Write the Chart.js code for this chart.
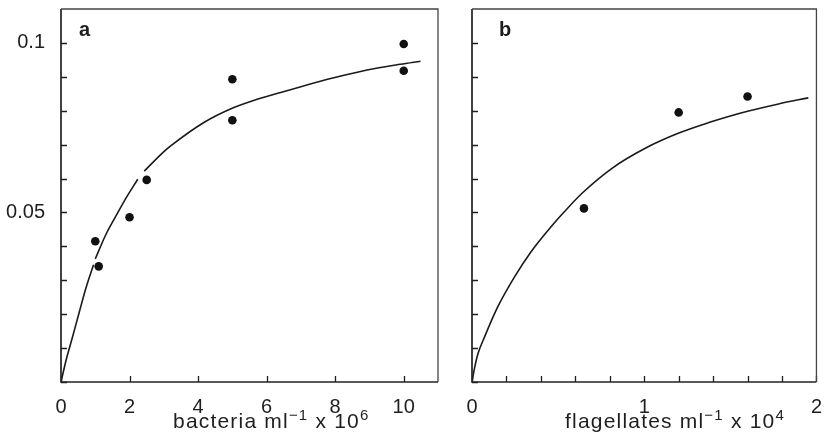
<!DOCTYPE html>
<html>
<head>
<meta charset="utf-8">
<script src="https://cdn.jsdelivr.net/npm/chart.js@4"></script>
<style>
  html, body { margin:0; padding:0; background:#fff; }
  #wrap { position:relative; width:827px; height:433px; overflow:hidden; }
  canvas { position:absolute; top:0; }
</style>
</head>
<body>
<div id="wrap">
  <canvas id="chartA" width="455" height="433" style="left:0;width:455px;height:433px"></canvas>
  <canvas id="chartB" width="372" height="433" style="left:455px;width:372px;height:433px"></canvas>
</div>
<script>
// ---------- Panel a: bacteria ----------
const pointsAX = [1.0, 1.1, 2.0, 2.5, 5.0, 5.0, 10.0, 10.0];
const pointsAY = [0.0415, 0.0341, 0.0486, 0.0596, 0.0893, 0.0772, 0.0997, 0.0918];
// fitted curve (null = break in the drawn line)
const curveAX = [0, 0.15, 0.34, 0.53, 0.73, 0.95, 0.975, 1.0, 1.31, 1.6, 1.9, 2.24, 2.33, 2.43, 3.01, 3.21, 4.18, 4.96, 5.64, 6.41, 7.0, 7.96, 8.93, 9.9, 10.49];
const curveAY = [0, 0.0065, 0.0134, 0.0205, 0.0278, 0.0346, null, 0.0363, 0.0435, 0.0489, 0.0543, 0.0598, null, 0.0622, 0.0680, 0.0697, 0.0766, 0.0806, 0.0831, 0.0854, 0.0871, 0.0897, 0.0920, 0.0937, 0.0946];
const xTicksA = [0, 2, 4, 6, 8, 10];
const xTickLabelsA = ['0', '2', '4', '6', '8', '10'];

// ---------- Panel b: flagellates ----------
const pointsBX = [0.65, 1.2, 1.6];
const pointsBY = [0.0512, 0.0795, 0.0842];
const curveBX = [0, 0.016, 0.035, 0.073, 0.15, 0.247, 0.344, 0.459, 0.536, 0.642, 0.815, 1.009, 1.201, 1.394, 1.49, 1.606, 1.78, 1.953];
const curveBY = [0, 0.0044, 0.0084, 0.0133, 0.0222, 0.031, 0.0385, 0.0458, 0.0502, 0.0558, 0.0631, 0.069, 0.0734, 0.0768, 0.0783, 0.0799, 0.0820, 0.0838];
const xTicksB = [0, 0.2, 0.4, 0.6, 0.8, 1.0, 1.2, 1.4, 1.6, 1.8, 2.0];
const xLabelValuesB = [0, 1, 2];
const xLabelTextsB = ['0', '1', '2'];

// ---------- shared y axis ----------
const yTicks = [0, 0.01, 0.02, 0.03, 0.04, 0.05, 0.06, 0.07, 0.08, 0.09, 0.1];
const yLabelValues = [0.05, 0.1];
const yLabelTexts = ['0.05', '0.1'];

const FONT = '"Liberation Sans", Arial, Helvetica, sans-serif';
const INK = '#1e1e1e';

function toXY(xs, ys) { return xs.map((x, i) => ({ x: x, y: ys[i] })); }
function lookup(vals, texts, v) {
  for (let i = 0; i < vals.length; i++) if (Math.abs(vals[i] - v) < 1e-9) return texts[i];
  return '';
}

const frameTicks = {
  id: 'frameTicks',
  afterDatasetsDraw(chart, args, o) {
    const { ctx, scales } = chart;
    const x = scales.x, y = scales.y;
    const L = x.left, R = x.right, T = y.top, B = y.bottom;
    ctx.save();
    // inward tick marks
    ctx.strokeStyle = INK;
    ctx.lineWidth = 1.3;
    ctx.beginPath();
    x.ticks.forEach(t => {
      const px = Math.round(x.getPixelForValue(t.value)) + 0.5;
      ctx.moveTo(px, B); ctx.lineTo(px, B - 6);
    });
    y.ticks.forEach(t => {
      const py = Math.round(y.getPixelForValue(t.value)) + 0.5;
      ctx.moveTo(L, py); ctx.lineTo(L + 6, py);
    });
    ctx.stroke();
    // frame: left & bottom heavier, top & right lighter
    ctx.lineWidth = 1.7;
    ctx.strokeStyle = '#222';
    ctx.beginPath();
    ctx.moveTo(L, T); ctx.lineTo(L, B); ctx.lineTo(R, B);
    ctx.stroke();
    ctx.lineWidth = 1.3;
    ctx.strokeStyle = '#444';
    ctx.beginPath();
    ctx.moveTo(L, T); ctx.lineTo(R, T); ctx.lineTo(R, B);
    ctx.stroke();
    // panel letter
    ctx.fillStyle = INK;
    ctx.textBaseline = 'alphabetic';
    ctx.textAlign = 'left';
    ctx.font = 'bold 20px ' + FONT;
    ctx.fillText(o.letter, o.letterX, 36);
    // axis title with superscripts
    let cx = o.titleX;
    const base = 428;
    try { ctx.letterSpacing = '1.2px'; } catch (e) {}
    o.title.forEach(p => {
      if (p.sup) {
        ctx.font = '15px ' + FONT;
        ctx.fillText(p.t, cx, base - 8);
      } else {
        ctx.font = '21px ' + FONT;
        ctx.fillText(p.t, cx, base);
      }
      cx += ctx.measureText(p.t).width;
    });
    ctx.restore();
  }
};

function makeChart(id, cfg) {
  return new Chart(document.getElementById(id), {
    type: 'scatter',
    data: {
      datasets: [
        {
          data: toXY(cfg.curveX, cfg.curveY),
          showLine: true, pointRadius: 0, borderColor: '#1a1a1a', borderWidth: 1.6,
          tension: 0.3, cubicInterpolationMode: 'monotone', spanGaps: false, fill: false
        },
        {
          data: toXY(cfg.ptsX, cfg.ptsY),
          showLine: false, pointRadius: 4.3, pointBorderWidth: 0,
          backgroundColor: '#111', borderColor: '#111'
        }
      ]
    },
    options: {
      responsive: false, animation: false, events: [],
      layout: { padding: { top: cfg.padTop, right: cfg.padRight, left: 0, bottom: 0 } },
      plugins: {
        legend: { display: false }, tooltip: { enabled: false },
        frameTicks: { letter: cfg.letter, letterX: cfg.letterX, titleX: cfg.titleX, title: cfg.title }
      },
      scales: {
        x: {
          type: 'linear', min: cfg.xMax[0], max: cfg.xMax[1],
          afterBuildTicks: s => { s.ticks = cfg.xTicks.map(v => ({ value: v })); },
          afterFit: s => { s.height = 51; },
          grid: { display: false }, border: { display: false },
          ticks: {
            autoSkip: false, maxRotation: 0, minRotation: 0, padding: 5, color: INK,
            font: { family: FONT, size: 20 },
            callback: (v) => cfg.xLabel(v)
          }
        },
        y: {
          type: 'linear', min: 0, max: 0.11,
          afterBuildTicks: s => { s.ticks = yTicks.map(v => ({ value: v })); },
          afterFit: s => { s.width = cfg.yWidth; s.paddingTop = 0; s.paddingBottom = 0; },
          grid: { display: false }, border: { display: false },
          ticks: {
            display: cfg.showY, autoSkip: false, padding: 8, color: INK,
            font: { family: FONT, size: 20 },
            callback: (v) => lookup(yLabelValues, yLabelTexts, v)
          }
        }
      }
    },
    plugins: [frameTicks]
  });
}

makeChart('chartA', {
  curveX: curveAX, curveY: curveAY, ptsX: pointsAX, ptsY: pointsAY,
  xMax: [0, 11], xTicks: xTicksA,
  xLabel: v => lookup(xTicksA, xTickLabelsA, v),
  yWidth: 61, showY: true, padTop: 9, padRight: 17,
  letter: 'a', letterX: 79, titleX: 173,
  title: [{ t: 'bacteria ml' }, { t: '\u22121', sup: true }, { t: ' x 10' }, { t: '6', sup: true }]
});

makeChart('chartB', {
  curveX: curveBX, curveY: curveBY, ptsX: pointsBX, ptsY: pointsBY,
  xMax: [0, 2], xTicks: xTicksB,
  xLabel: v => lookup(xLabelValuesB, xLabelTextsB, v),
  yWidth: 17, showY: false, padTop: 9, padRight: 9,
  letter: 'b', letterX: 44, titleX: 110,
  title: [{ t: 'flagellates ml' }, { t: '\u22121', sup: true }, { t: ' x 10' }, { t: '4', sup: true }]
});
</script>
</body>
</html>
